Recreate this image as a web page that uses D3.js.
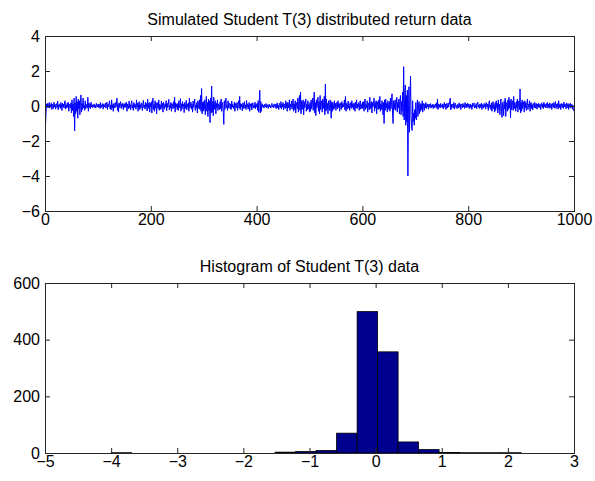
<!DOCTYPE html>
<html><head><meta charset="utf-8">
<script src="https://cdn.jsdelivr.net/npm/d3@7"></script>
<style>
html,body{margin:0;padding:0;background:#fff;}
text{font-family:"Liberation Sans",Arial,Helvetica,sans-serif;}
</style></head>
<body>
<svg id="c" width="595" height="481"></svg>
<script>
// ---------- data ----------
const topTitle = "Simulated Student T(3) distributed return data";
const bottomTitle = "Histogram of Student T(3) data";
const topXTicks = [0, 200, 400, 600, 800, 1000];
const topYTicks = [-6, -4, -2, 0, 2, 4];
const bottomXTicks = [-5, -4, -3, -2, -1, 0, 1, 2, 3];
const bottomYTicks = [0, 200, 400, 600];

const returns = [
-1.05,-0.35,0.12,-0.08,0.15,-0.1,0.05,0.2,-0.12,0.08,-0.05,0.18,-0.2,0.1,0.02,-0.15,0.22,-0.06,0.1,-0.18,0.05,0.14,-0.1,0.28,-0.22,0.06,-0.04,0.12,-0.14,0.2,0.08,-0.26,0.15,-0.05,0.1,-0.12,0.25,0.3,-0.18,0.06,-0.1,0.16,-0.08,0.22,-0.3,0.1,0.05,-0.12,0.18,-0.4,
0.35,-0.25,0.12,-0.6,0.45,-1.43,0.2,-0.45,0.55,-0.3,0.25,-0.7,0.4,-0.15,0.3,-0.5,0.2,0.63,-0.35,0.15,-0.2,0.45,-0.1,0.05,-0.25,0.3,-0.15,0.1,0.02,-0.12,0.5,-0.3,0.18,-0.08,0.1,-0.16,0.22,-0.05,0.08,-0.1,0.06,-0.04,0.12,-0.08,0.03,-0.12,0.15,0.02,-0.06,0.1,
-0.08,0.12,0.05,-0.14,0.2,-0.1,0.06,-0.02,0.14,-0.18,0.1,0.04,-0.06,0.16,-0.12,0.08,0.22,-0.2,0.1,-0.04,0.12,0.3,-0.15,0.05,-0.22,0.35,-0.1,0.08,-0.3,0.15,0.02,-0.12,0.2,-0.06,0.1,0.45,-0.25,0.12,-0.35,0.18,-0.08,0.06,0.25,-0.14,0.1,-0.04,0.16,-0.2,0.08,0.12,
-0.1,0.18,-0.05,0.22,-0.3,0.12,0.04,-0.16,0.28,-0.1,0.08,-0.22,0.14,0.3,-0.12,0.06,-0.25,0.2,-0.08,0.12,0.02,-0.18,0.35,-0.05,0.15,-0.3,0.1,0.25,-0.2,0.08,-0.12,0.18,0.04,-0.26,0.12,0.32,-0.1,0.06,-0.18,0.22,-0.06,0.14,-0.28,0.4,-0.15,0.1,0.2,-0.35,0.15,-0.05,
0.25,-0.4,0.12,0.45,-0.2,0.08,-0.3,0.3,-0.12,0.18,-0.45,0.2,0.05,-0.15,0.35,-0.25,0.1,0.02,-0.2,0.28,-0.1,0.15,-0.35,0.22,0.08,-0.18,0.12,-0.05,0.3,-0.28,0.16,-0.08,0.1,0.38,-0.22,0.05,-0.12,0.2,-0.3,0.14,0.06,-0.16,0.25,-0.1,0.5,-0.35,0.18,-0.06,0.1,-0.2,
0.15,-0.25,0.3,-0.1,0.08,0.42,-0.3,0.12,-0.18,0.25,-0.05,0.1,-0.38,0.2,0.06,-0.14,0.32,-0.22,0.1,-0.06,0.18,-0.3,0.45,-0.12,0.05,0.22,-0.18,0.1,-0.35,0.28,-0.08,0.15,0.4,-0.25,0.06,-0.12,0.2,-0.4,0.3,0.08,-0.15,0.35,-0.2,0.6,-0.3,1.0,-0.45,0.2,-0.3,0.25,
-0.2,0.35,-0.5,0.15,0.55,-0.3,0.2,-0.6,0.4,-0.25,0.3,-0.95,0.45,-0.4,1.14,-0.35,0.25,-0.55,0.5,-0.2,0.1,0.3,-0.45,0.15,-0.1,0.35,-0.25,0.12,0.05,-0.2,0.25,-0.15,0.4,-0.3,0.1,0.2,-0.35,-1.05,0.3,-0.2,0.15,0.45,-0.1,0.05,-0.25,0.3,-0.12,0.18,0.08,-0.15,
0.12,-0.2,0.28,-0.08,0.1,0.02,-0.16,0.22,-0.3,0.15,0.05,-0.1,0.2,-0.25,0.08,0.3,-0.12,0.55,-0.2,0.14,-0.06,0.1,-0.28,0.18,0.04,-0.15,0.25,-0.1,0.06,-0.2,0.32,-0.05,0.12,-0.18,0.08,0.2,-0.3,0.1,-0.02,0.15,-0.22,0.06,0.18,-0.12,0.04,-0.1,0.22,-0.16,0.1,-0.05,
0.15,-0.25,0.3,-0.35,0.2,0.9,-0.4,0.25,-0.3,0.1,0.12,-0.08,0.05,-0.12,0.1,0.02,-0.06,0.14,-0.1,0.04,0.08,-0.14,0.06,0.1,-0.05,0.02,-0.12,0.08,0.15,-0.06,0.03,-0.1,0.12,0.05,-0.08,0.1,-0.15,0.06,0.18,-0.12,0.04,-0.2,0.15,0.08,-0.1,0.25,-0.18,0.1,-0.06,0.2,
-0.22,0.12,0.05,-0.15,0.3,-0.1,0.18,-0.3,0.22,0.08,-0.12,0.35,-0.25,0.1,-0.05,0.28,-0.18,0.15,0.4,-0.3,0.12,-0.2,0.3,-0.4,0.2,0.05,-0.15,0.45,-0.35,0.2,0.6,-0.25,0.8,-0.45,0.3,-0.2,0.1,0.35,-0.5,0.25,-0.1,0.15,0.4,-0.3,0.12,-0.22,0.3,-0.15,0.08,-0.35,
0.2,-0.3,0.35,-0.15,0.1,0.45,-0.25,0.3,0.8,-0.4,0.2,-0.55,0.35,-0.1,0.15,0.5,-0.3,0.25,-0.45,0.6,-0.2,0.1,0.3,-0.35,0.4,-0.15,0.2,0.55,-0.5,1.25,-0.3,0.4,-0.2,0.15,-0.45,0.3,0.1,-0.25,0.35,-0.15,-0.7,0.25,-0.3,0.2,0.05,-0.2,0.3,-0.1,0.15,-0.25,
0.1,0.22,-0.15,0.3,-0.08,0.12,-0.3,0.18,0.05,-0.2,0.25,-0.1,0.15,-0.05,0.1,0.35,-0.22,0.55,-0.3,0.15,0.08,-0.18,0.28,-0.12,0.1,-0.25,0.2,0.04,-0.14,0.3,-0.08,0.12,-0.2,0.18,0.06,-0.3,0.22,-0.1,0.35,-0.15,0.1,-0.05,0.2,-0.25,0.12,0.3,-0.18,0.08,-0.12,0.22,
-0.15,0.25,-0.3,0.12,0.4,-0.2,0.08,-0.1,0.3,-0.35,0.18,0.05,-0.22,0.5,-0.15,0.1,0.25,-0.4,0.2,-0.05,0.15,0.45,-0.3,0.2,-0.12,0.3,-0.45,0.25,0.1,-0.2,0.35,-0.15,0.55,-0.3,0.12,-0.2,0.3,0.05,-0.5,0.2,-1.0,0.35,-0.25,0.4,-0.1,0.15,-0.35,0.3,0.1,-0.2,
0.25,-0.3,0.45,-0.15,0.2,0.7,-0.4,-1.0,0.3,-0.2,0.15,0.35,-0.25,0.1,0.5,-0.35,0.2,-0.1,0.4,-0.45,0.3,0.6,-0.5,0.25,-0.3,0.8,-0.6,2.25,-0.8,0.5,1.2,-1.1,0.6,-0.9,0.9,-4.0,-0.5,1.1,-1.5,0.4,1.7,-0.6,-1.2,-1.4,0.3,-0.9,-0.4,-1.1,-0.2,-0.7,
0.2,-0.8,-0.3,0.35,-0.6,-0.1,0.25,-0.45,0.15,-0.3,0.1,-0.2,0.3,-0.35,0.05,0.15,-0.25,0.1,-0.1,0.2,-0.15,0.08,-0.05,0.12,-0.18,0.06,0.1,-0.08,0.14,-0.12,0.04,-0.06,0.1,-0.15,0.08,0.02,-0.1,0.12,-0.04,0.18,-0.14,0.4,-0.2,0.1,-0.06,0.08,-0.12,0.15,-0.02,0.05,
-0.1,0.12,-0.16,0.06,0.2,-0.08,0.1,-0.2,0.14,0.02,-0.12,0.18,-0.06,0.08,0.25,0.45,-0.22,0.1,-0.14,0.05,0.12,-0.1,0.2,-0.18,0.06,0.15,-0.08,0.02,-0.15,0.1,0.08,-0.12,0.18,-0.05,0.12,-0.2,0.1,0.04,-0.1,0.15,-0.06,0.08,-0.14,0.2,0.02,-0.1,0.12,-0.08,0.16,-0.04,
0.1,-0.15,0.06,0.12,-0.1,0.05,-0.2,0.15,-0.04,0.08,0.18,-0.12,0.02,-0.08,0.14,-0.16,0.1,0.22,-0.06,0.04,-0.14,0.12,0.06,-0.1,0.16,-0.2,0.08,0.02,-0.12,0.15,-0.05,0.1,-0.18,0.2,0.05,-0.08,0.12,-0.25,0.15,0.3,-0.1,0.06,-0.2,0.18,-0.3,0.1,0.25,-0.15,0.08,-0.35,
0.2,-0.25,0.3,-0.1,0.15,-0.4,0.35,-0.2,0.1,-0.5,0.25,0.4,-0.3,-0.65,0.2,0.05,-0.55,0.3,-0.15,0.45,-0.6,0.2,0.1,-0.3,0.35,-0.2,0.5,-0.1,0.3,-0.67,0.4,-0.2,0.15,0.3,-0.25,0.55,-0.15,0.2,0.05,-0.3,0.25,-0.1,0.4,-0.35,0.15,0.3,-0.2,0.97,-0.4,0.2,
-0.3,0.35,-0.15,0.25,0.05,-0.35,0.3,-0.1,0.2,-0.25,0.15,0.4,-0.2,0.1,-0.05,0.3,-0.3,0.12,0.2,-0.15,0.08,-0.22,0.15,0.05,-0.1,0.2,-0.12,0.06,0.14,-0.18,0.1,-0.04,0.16,-0.1,0.08,0.12,-0.2,0.05,0.18,-0.08,0.1,-0.15,0.22,-0.05,0.12,-0.1,0.06,0.15,-0.12,0.2,
-0.06,0.1,-0.14,0.18,0.04,-0.1,0.12,-0.2,0.15,0.02,-0.08,0.2,-0.12,0.06,0.25,-0.15,0.1,-0.05,0.14,-0.18,0.3,-0.1,0.08,0.12,-0.2,0.05,0.15,-0.08,0.1,-0.14,0.22,-0.06,0.12,0.04,-0.16,0.18,-0.1,0.08,0.14,-0.2,0.1,-0.05,0.16,-0.12,0.06,0.1,-0.18,0.05,-0.25,-0.3
];

// histogram: 20 equal bins, left edges and counts
const binEdges = [-4.00,-3.69,-3.38,-3.07,-2.76,-2.45,-2.14,-1.83,-1.52,-1.21,-0.90,-0.59,-0.28,0.03,0.34,0.65,0.96,1.27,1.58,1.89,2.20];
const binCounts = [1,0,0,0,0,0,0,0,3,5,9,70,499,357,39,12,2,1,1,1];

// ---------- drawing ----------
const svg = d3.select("#c");
const FONT = 16;
const axisColor = "#262626";

function styleAxis(g){
  g.select(".domain").remove();
  g.selectAll(".tick line").attr("stroke", axisColor).attr("stroke-width", 1);
  g.selectAll(".tick text").attr("fill", "#000").attr("font-size", FONT)
    .attr("font-family", '"Liberation Sans",Arial,sans-serif');
}

function frame(x, y, xt, yt, title){
  const [x0, x1] = x.range();
  const [y0, y1] = y.range(); // y0 bottom, y1 top
  const tl = 5;
  svg.append("g").attr("transform", `translate(0,${y0})`)
    .call(d3.axisBottom(x).tickValues(xt).tickSize(-tl).tickPadding(3).tickFormat(d3.format("")))
    .call(styleAxis);
  svg.append("g").attr("transform", `translate(0,${y1})`)
    .call(d3.axisTop(x).tickValues(xt).tickSize(-tl).tickFormat(""))
    .call(styleAxis);
  svg.append("g").attr("transform", `translate(${x0},0)`)
    .call(d3.axisLeft(y).tickValues(yt).tickSize(-tl).tickPadding(5).tickFormat(d3.format("")))
    .call(styleAxis);
  svg.append("g").attr("transform", `translate(${x1},0)`)
    .call(d3.axisRight(y).tickValues(yt).tickSize(-tl).tickFormat(""))
    .call(styleAxis);
  svg.append("rect").attr("x", x0 + 0.5).attr("y", y1 + 0.5)
    .attr("width", x1 - x0).attr("height", y0 - y1)
    .attr("fill", "none").attr("stroke", axisColor).attr("stroke-width", 1);
  svg.append("text").attr("x", (x0 + x1) / 2).attr("y", y1 - 11)
    .attr("text-anchor", "middle").attr("font-size", FONT).attr("fill", "#000")
    .text(title);
}

// top panel
const xT = d3.scaleLinear().domain([0, 1000]).range([45, 574]);
const yT = d3.scaleLinear().domain([-6, 4]).range([211, 36]);
svg.append("path").datum(returns)
  .attr("d", d3.line().x((d, i) => xT(i + 1)).y(d => yT(d)))
  .attr("fill", "none").attr("stroke", "#0000ff").attr("stroke-width", 1)
  .attr("stroke-linejoin", "round");
frame(xT, yT, topXTicks, topYTicks, topTitle);

// bottom panel
const xB = d3.scaleLinear().domain([-5, 3]).range([45, 574]);
const yB = d3.scaleLinear().domain([0, 600]).range([453, 283]);
svg.append("g").selectAll("rect").data(binCounts).join("rect")
  .attr("x", (d, i) => xB(binEdges[i]))
  .attr("width", (d, i) => xB(binEdges[i + 1]) - xB(binEdges[i]))
  .attr("y", d => yB(d))
  .attr("height", d => yB(0) - yB(d))
  .attr("fill", "#00008f").attr("stroke", "#000").attr("stroke-width", 0.8);
frame(xB, yB, bottomXTicks, bottomYTicks, bottomTitle);
</script>
</body></html>
